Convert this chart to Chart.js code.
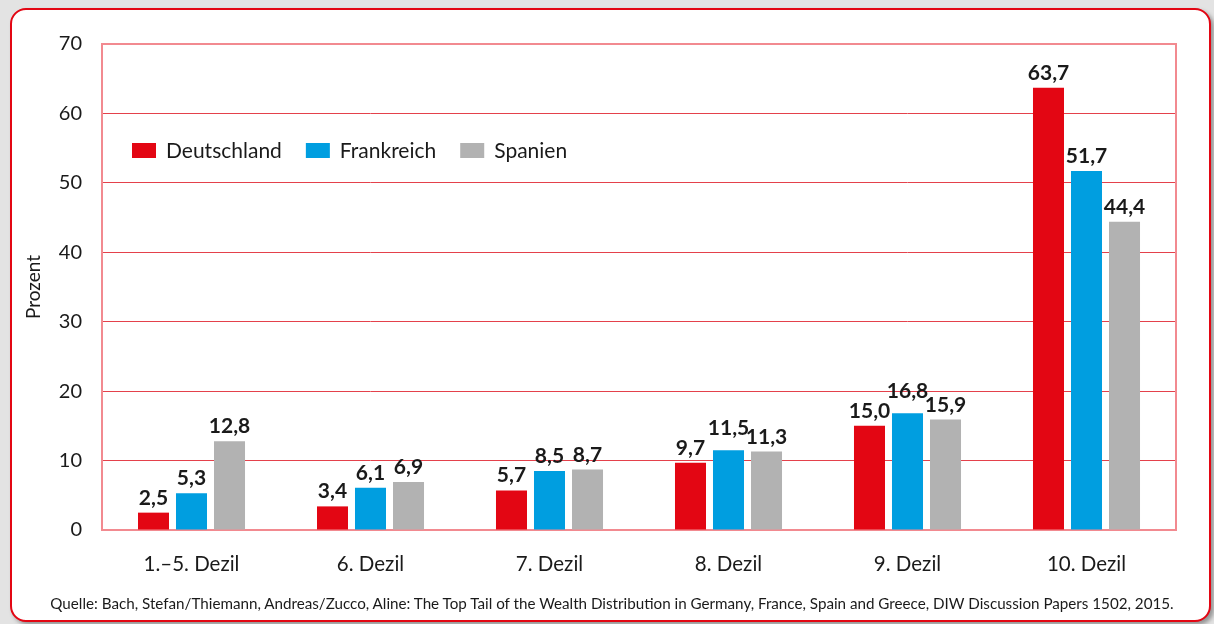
<!DOCTYPE html>
<html>
<head>
<meta charset="utf-8">
<script src="https://cdn.jsdelivr.net/npm/chart.js@4.4.1/dist/chart.umd.min.js"></script>
<style>
  html,body{margin:0;padding:0;background:#e3e3e3;width:1214px;height:624px;overflow:hidden;font-family:Lato,"Noto Sans",sans-serif;}
  #card{position:absolute;left:10px;top:8px;width:1197px;height:610px;background:#fff;border:2px solid #e30613;border-radius:16px;box-shadow:3px 3px 4px rgba(0,0,0,0.35);}
  #wrap{position:absolute;left:0;top:0;width:1214px;height:624px;}
  #src{position:absolute;left:0;top:594px;width:1224px;text-align:center;font-size:15.2px;color:#1a1a1a;white-space:nowrap;}
</style>
</head>
<body>
<div id="card"></div>
<div id="wrap"><canvas id="c"></canvas></div>
<div id="src">Quelle: Bach, Stefan/Thiemann, Andreas/Zucco, Aline: The Top Tail of the Wealth Distribution in Germany, France, Spain and Greece, DIW Discussion Papers 1502, 2015.</div>
<script>
const categories = ["1.–5. Dezil", "6. Dezil", "7. Dezil", "8. Dezil", "9. Dezil", "10. Dezil"];
const deutschland = [2.5, 3.4, 5.7, 9.7, 15.0, 63.7];
const frankreich = [5.3, 6.1, 8.5, 11.5, 16.8, 51.7];
const spanien = [12.8, 6.9, 8.7, 11.3, 15.9, 44.4];
const seriesNames = ["Deutschland", "Frankreich", "Spanien"];
const yTicks = [0, 10, 20, 30, 40, 50, 60, 70];

const FONT = 'Lato, "Noto Sans", sans-serif';
const TXT = '#1a1a1a';

const fmt = v => v.toFixed(1).replace('.', ',');

const frame = {
  id: 'frame',
  beforeDatasetsDraw(chart) {
    const a = chart.chartArea, ctx = chart.ctx;
    ctx.save();
    ctx.strokeStyle = '#f28a90';
    ctx.lineWidth = 2;
    ctx.strokeRect(a.left, a.top, a.right - a.left, a.bottom - a.top);
    ctx.restore();
  }
};

const valueLabels = {
  id: 'valueLabels',
  afterDatasetsDraw(chart) {
    const ctx = chart.ctx;
    ctx.save();
    ctx.font = 'bold 21px ' + FONT;
    ctx.fillStyle = TXT;
    ctx.textAlign = 'center';
    ctx.textBaseline = 'alphabetic';
    const n = chart.data.labels.length;
    for (let i = 0; i < n; i++) {
      const items = chart.data.datasets.map((ds, d) => {
        const el = chart.getDatasetMeta(d).data[i];
        const txt = fmt(ds.data[i]);
        const w = ctx.measureText(txt).width;
        return {txt, x: el.x, y: el.y - 8, w, v: ds.data[i], raised: false};
      });
      for (let k = 1; k < items.length; k++) {
        const p = items[k - 1], q = items[k];
        const hOverlap = (p.x + p.w / 2) > (q.x - q.w / 2) - 1;
        const vOverlap = Math.abs(p.y - q.y) < 16;
        if (hOverlap && vOverlap) {
          const hi = p.v > q.v ? p : q;
          if (!hi.raised) { hi.y -= 7; hi.raised = true; }
        }
      }
      items.forEach(it => ctx.fillText(it.txt, it.x, it.y));
    }
    ctx.restore();
  }
};

const legendIn = {
  id: 'legendIn',
  afterDraw(chart) {
    const ctx = chart.ctx, a = chart.chartArea;
    ctx.save();
    ctx.font = '21px ' + FONT;
    ctx.textBaseline = 'middle';
    let x = a.left + 30;
    const yc = a.top + 107;
    chart.data.datasets.forEach(ds => {
      ctx.fillStyle = ds.backgroundColor;
      ctx.fillRect(x, yc - 8, 24, 15);
      ctx.fillStyle = TXT;
      ctx.fillText(ds.label, x + 34, yc);
      x += 34 + ctx.measureText(ds.label).width + 24;
    });
    ctx.restore();
  }
};

new Chart(document.getElementById('c'), {
  type: 'bar',
  data: {
    labels: categories,
    datasets: [
      {label: seriesNames[0], data: deutschland, backgroundColor: '#e30613'},
      {label: seriesNames[1], data: frankreich, backgroundColor: '#009ee0'},
      {label: seriesNames[2], data: spanien, backgroundColor: '#b2b2b2'}
    ]
  },
  options: {
    responsive: true,
    maintainAspectRatio: false,
    animation: false,
    categoryPercentage: 0.637,
    barPercentage: 0.816,
    layout: {padding: {top: 44, right: 38, left: 0, bottom: 0}},
    plugins: {legend: {display: false}, tooltip: {enabled: false}},
    scales: {
      x: {
        grid: {display: false},
        border: {display: false},
        ticks: {color: TXT, font: {family: FONT, size: 20.5}, padding: 14},
        afterFit(s) { s.height = 94; }
      },
      y: {
        min: 0, max: 70,
        afterBuildTicks(s) { s.ticks = yTicks.map(v => ({value: v})); },
        grid: {
          color: ctx => (ctx.tick && (ctx.tick.value === 0 || ctx.tick.value === 70)) ? 'rgba(0,0,0,0)' : '#e4414b',
          lineWidth: 1,
          drawTicks: false
        },
        border: {display: false},
        ticks: {color: TXT, font: {family: FONT, size: 20}, padding: 20},
        title: {display: true, text: 'Prozent', color: TXT, font: {family: FONT, size: 19}, padding: {top: 22, bottom: 0}},
        afterFit(s) { s.width = 102; }
      }
    }
  },
  plugins: [frame, valueLabels, legendIn]
});
</script>
</body>
</html>
